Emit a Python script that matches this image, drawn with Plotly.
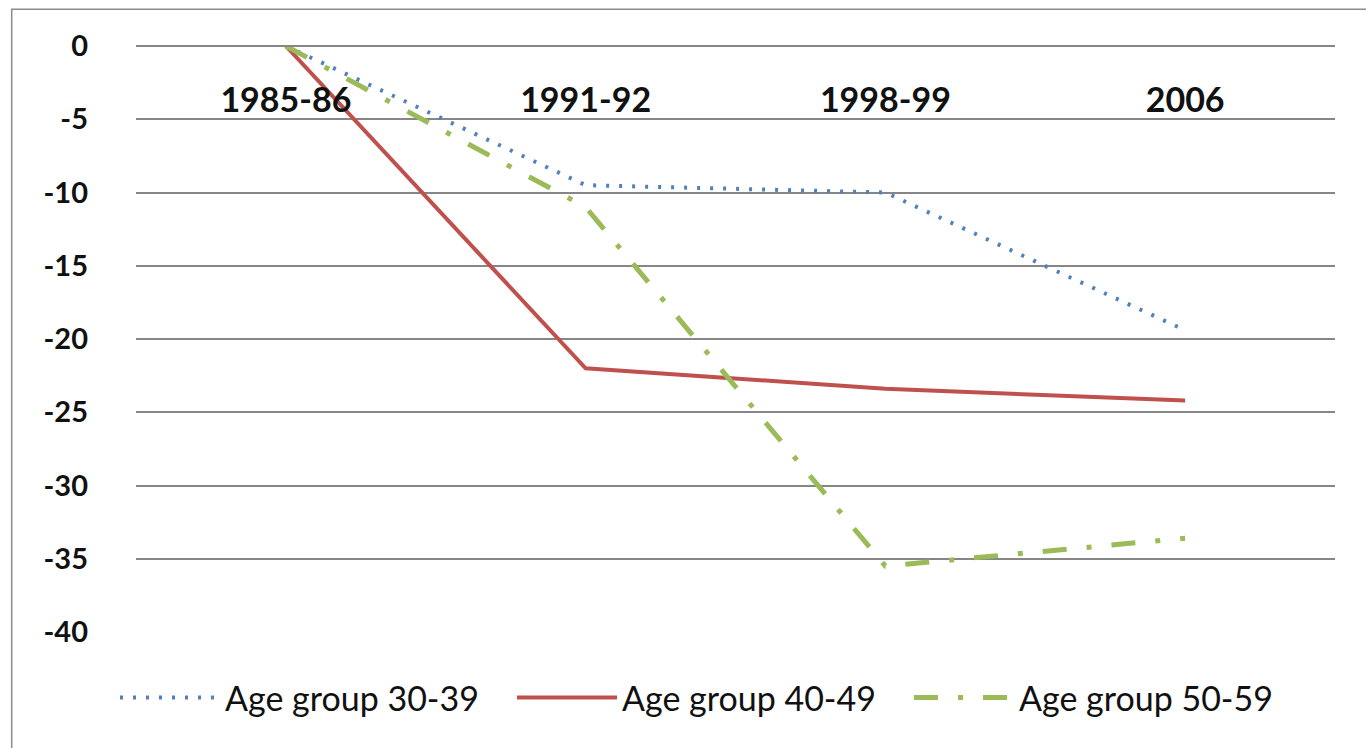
import plotly.graph_objects as go

categories = ["1985-86", "1991-92", "1998-99", "2006"]
age_30_39 = [0, -9.5, -10, -19.4]
age_40_49 = [0, -22, -23.4, -24.2]
age_50_59 = [0, -11, -35.5, -33.6]
y_ticks = [0, -5, -10, -15, -20, -25, -30, -35, -40]

W, H = 1366, 748
ML, MR, MT, MB = 136, 31, 46, 116
PW, PH = W - ML - MR, H - MT - MB

fig = go.Figure()
fig.add_trace(go.Scatter(x=categories, y=age_30_39, mode="lines", name="Age group 30-39",
                         line=dict(color="#4F81BD", width=4, dash="3px,10px")))
fig.add_trace(go.Scatter(x=categories, y=age_40_49, mode="lines", name="Age group 40-49",
                         line=dict(color="#C0504D", width=4)))
fig.add_trace(go.Scatter(x=categories, y=age_50_59, mode="lines", name="Age group 50-59",
                         line=dict(color="#9BBB59", width=5, dash="24px,20px,5px,20px")))

# outer chart border (extends past the image on right and bottom)
fig.add_shape(type="rect", xref="paper", yref="paper",
              x0=(11.7 - ML) / PW, x1=1.2, y0=-0.4, y1=1 + (MT - 9.3) / PH,
              line=dict(color="#8C8C8C", width=1.5), fillcolor="rgba(0,0,0,0)", layer="below")

legend_center_px = 698
fig.update_layout(
    width=W, height=H,
    margin=dict(l=ML, r=MR, t=MT, b=MB, pad=0, autoexpand=False),
    paper_bgcolor="white", plot_bgcolor="white",
    font=dict(family="Lato", color="#111111"),
    showlegend=True,
    legend=dict(orientation="h", x=(115 - ML) / PW, xanchor="left",
                y=-(legend_center_px - (MT + PH)) / PH, yanchor="middle",
                font=dict(size=34, family="Lato", color="#111111"),
                itemwidth=100, entrywidth=282, entrywidthmode="pixels",
                traceorder="normal", bgcolor="rgba(0,0,0,0)"),
    xaxis=dict(type="category", categoryorder="array", categoryarray=categories,
               range=[-0.5, 3.5], anchor="free", position=1, side="bottom",
               automargin=False,
               showgrid=False, showline=True, linecolor="#868686", linewidth=1.5,
               zeroline=False, ticks="", ticklabelstandoff=24,
               tickfont=dict(size=34, family="Lato", color="#111111", weight="bold")),
    yaxis=dict(range=[-40, 0], tickvals=y_ticks, ticktext=[str(v) for v in y_ticks],
               automargin=False,
               showgrid=True, gridcolor="#868686", gridwidth=1.5,
               zeroline=False, showline=False, ticks="", ticklabelstandoff=47,
               tickfont=dict(size=29, family="Lato", color="#111111", weight="bold")),
)

fig.write_html("out.html", config={"displayModeBar": False},
               post_script="document.body.style.margin='0';document.body.style.padding='0';document.body.style.overflow='hidden';")
